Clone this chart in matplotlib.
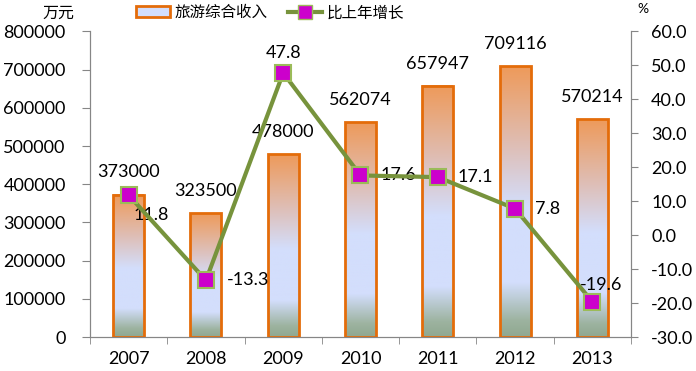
import matplotlib.pyplot as plt
import numpy as np
from matplotlib.colors import LinearSegmentedColormap
from matplotlib.patches import Rectangle
from matplotlib.lines import Line2D

plt.rcParams['font.family'] = ['Lato', 'Noto Sans CJK SC', 'DejaVu Sans']

years = ['2007', '2008', '2009', '2010', '2011', '2012', '2013']
income = [373000, 323500, 478000, 562074, 657947, 709116, 570214]
growth = [11.8, -13.3, 47.8, 17.6, 17.1, 7.8, -19.6]
left_ticks = [0, 100000, 200000, 300000, 400000, 500000, 600000, 700000, 800000]
right_ticks = [-30, -20, -10, 0, 10, 20, 30, 40, 50, 60]

# label offsets (points) for the growth labels, as placed in the original
growth_offsets = [(3.6, -14.4), (15, 0), (0, 14.4), (14.4, 0), (14.4, 0), (14, 0), (6.5, 12)]

orange = '#E46C0A'
olive = '#77933C'
grad = LinearSegmentedColormap.from_list(
    'bar', [(0.0, '#8FA890'), (0.06, '#9DB3A0'), (0.2, '#D3DEFC'), (0.48, '#D3DEFC'),
            (0.7, '#DEBFB8'), (1.0, '#EE9A5A')])

fig = plt.figure(figsize=(6.96, 3.71), dpi=100)
ax = fig.add_axes([0.1293, 0.0916, 0.7773, 0.8235])
ax2 = ax.twinx()

x = np.arange(len(years))
w = 0.4

g = np.linspace(0, 1, 256).reshape(-1, 1)
for xi, v in zip(x, income):
    ax.imshow(g, cmap=grad, origin='lower', aspect='auto',
              extent=[xi - w / 2, xi + w / 2, 0, v], zorder=2)
    ax.add_patch(Rectangle((xi - w / 2, 0), w, v, facecolor='none', edgecolor=orange,
                           linewidth=2, zorder=3))
    ax.annotate(str(v), (xi, v), xytext=(0, 16), textcoords='offset points',
                ha='center', va='center', fontsize=13)
ax.set_xlim(-0.5, len(years) - 0.5)
ax.set_ylim(0, 800000)
ax2.set_ylim(-30, 60)

ax2.plot(x, growth, color=olive, linewidth=3, marker='s', markersize=11,
         markerfacecolor='#CC00CC', markeredgecolor='#9BBB59', markeredgewidth=1.5, zorder=4)
for xi, v, (dx, dy) in zip(x, growth, growth_offsets):
    ha = 'center' if dx == 0 or dy > 0 else 'left'
    ax2.annotate(f'{v:.1f}', (xi, v), xytext=(dx, dy), textcoords='offset points',
                 ha=ha, va='center', fontsize=13)

ax.set_yticks(left_ticks)
ax.set_yticklabels([str(t) for t in left_ticks])
ax2.set_yticks(right_ticks)
ax2.set_yticklabels([f'{t:.1f}' for t in right_ticks])
ax.set_xticks(x)
ax.set_xticklabels(years)
ax.set_xticks(np.arange(-0.5, len(years)), minor=True)
ax.tick_params(axis='x', which='major', length=0, pad=10, labelsize=13)
ax.tick_params(axis='x', which='minor', length=5, color='#868686')
ax.tick_params(axis='y', length=5.5, pad=12, color='#868686', labelsize=13)
ax2.tick_params(axis='y', length=5, pad=9.5, color='#868686', labelsize=13)

for a in (ax, ax2):
    a.spines['top'].set_visible(False)
    for s in ('left', 'right', 'bottom'):
        a.spines[s].set_color('#868686')

ax.set_zorder(1)
ax2.set_zorder(2)
ax.patch.set_visible(False)

fig.text(0.084, 0.962, '万元', ha='center', va='center', fontsize=11.5)
fig.text(0.924, 0.977, '%', ha='center', va='center', fontsize=10)

h1 = Rectangle((0, 0), 1, 1, facecolor='#D3DEFC', edgecolor=orange, linewidth=2)
h2 = Line2D([], [], color=olive, linewidth=3, marker='s', markersize=10,
            markerfacecolor='#CC00CC', markeredgecolor='#9BBB59')
fig.legend([h1, h2], ['旅游综合收入', '比上年增长'], loc='center', ncol=2,
           bbox_to_anchor=(0.388, 0.965), frameon=False, fontsize=11.2,
           handlelength=2.2, handletextpad=0.3, columnspacing=1.3)

fig.savefig('out.png', dpi=100)
